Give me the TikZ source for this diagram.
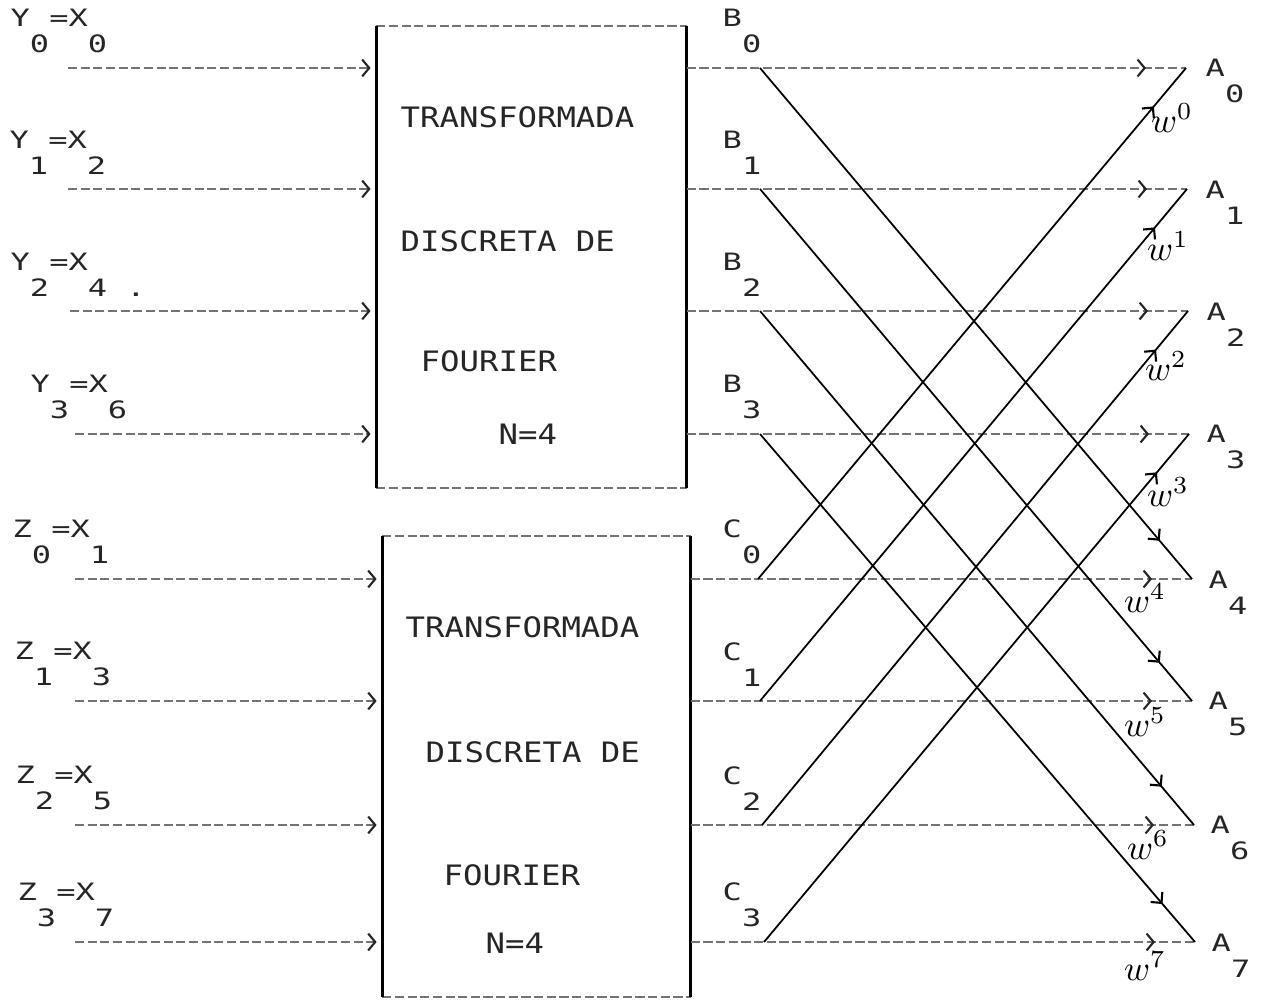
\documentclass[tikz,border=0pt]{standalone}
\usepackage{fontspec}
\usepackage{tikz}
\usetikzlibrary{arrows.meta, positioning, decorations.markings, calc}
\newfontfamily\dotfont[FakeStretch=1.15]{DejaVu Sans Mono}
\newfontfamily\pinfont[FakeStretch=1.34]{DejaVu Sans Mono}
\tikzset{
    dotLine/.style={black!55, line width=0.55pt, dash pattern=on 2.6pt off 1pt},
    boxSide/.style={black, line width=0.8pt},
    dftBox/.style={inner sep=0pt},
    inArrow/.style={dotLine, -{Straight Barb[length=2pt, width=4.8pt, line width=0.6pt, black!85]}, shorten >=1.6pt},
    outLine/.style={dotLine, postaction={decorate}, decoration={markings,
        mark=at position -0.4cm with {\arrow{Straight Barb[length=2pt, width=4.8pt, line width=0.6pt, black!85]}}}},
    butterfly/.style={black, line width=0.5pt, postaction={decorate}, decoration={markings,
        mark=at position -0.5cm with {\arrow{Straight Barb[length=2.2pt, width=4.4pt, line width=0.6pt]}}}},
    pinLabel/.style={font=\pinfont\fontsize{6.8}{7.4}\selectfont, align=left, anchor=south west, inner sep=0pt, text=black!85},
    boxText/.style={font=\dotfont\fontsize{8}{7.4}\selectfont, anchor=base west, inner sep=0pt, text=black!85},
    twiddle/.style={font=\normalsize, inner sep=0pt}
}

\begin{document}
\begin{tikzpicture}[x=0.01cm, y=-0.01cm]
    \useasboundingbox (0,0) rectangle (1261,1001);
    % the two N=4 blocks
    \node[dftBox, minimum width=3.09cm, minimum height=4.6cm] (dftY) at (531.5,257) {};
    \node[dftBox, minimum width=3.07cm, minimum height=4.59cm] (dftZ) at (536.5,766.5) {};
    \draw[dotLine] (dftY.north west) -- (dftY.north east);
    \draw[dotLine] (dftY.south west) -- (dftY.south east);
    \draw[dotLine] (dftZ.north west) -- (dftZ.north east);
    \draw[dotLine] (dftZ.south west) -- (dftZ.south east);
    \draw[boxSide] (dftY.north west) -- (dftY.south west);
    \draw[boxSide] (dftY.north east) -- (dftY.south east);
    \draw[boxSide] (dftZ.north west) -- (dftZ.south west);
    \draw[boxSide] (dftZ.north east) -- (dftZ.south east);
    \node[boxText] (tY1) at (400,128) {TRANSFORMADA};
    \node[boxText] (tY2) at (400,252) {DISCRETA DE};
    \node[boxText] (tY3) at (420,372) {FOURIER};
    \node[boxText] (tY4) at (498,445) {N=4};
    \node[boxText] (tZ1) at (405,638) {TRANSFORMADA};
    \node[boxText] (tZ2) at (425,763) {DISCRETA DE};
    \node[boxText] (tZ3) at (443,885) {FOURIER};
    \node[boxText] (tZ4) at (485,953) {N=4};

    % inputs
    \node[pinLabel] (lY0) at (10,54) {Y~=X\\~0~~0};
    \node[pinLabel] (lY1) at (9,175) {Y~=X\\~1~~2};
    \node[pinLabel] (lY2) at (10,297) {Y~=X\\~2~~4~.};
    \node[pinLabel] (lY3) at (30,420) {Y~=X\\~3~~6};
    \node[pinLabel] (lZ0) at (12,565) {Z~=X\\~0~~1};
    \node[pinLabel] (lZ1) at (14,687) {Z~=X\\~1~~3};
    \node[pinLabel] (lZ2) at (15,811) {Z~=X\\~2~~5};
    \node[pinLabel] (lZ3) at (17,928) {Z~=X\\~3~~7};
    \coordinate (sY0) at (68,68);   \coordinate (sY1) at (68,189);
    \coordinate (sY2) at (70,311);  \coordinate (sY3) at (75,434);
    \coordinate (sZ0) at (75,579);  \coordinate (sZ1) at (75,701);
    \coordinate (sZ2) at (75,825);  \coordinate (sZ3) at (75,942);
    \draw[inArrow] (sY0) -- (sY0 -| dftY.west);
    \draw[inArrow] (sY1) -- (sY1 -| dftY.west);
    \draw[inArrow] (sY2) -- (sY2 -| dftY.west);
    \draw[inArrow] (sY3) -- (sY3 -| dftY.west);
    \draw[inArrow] (sZ0) -- (sZ0 -| dftZ.west);
    \draw[inArrow] (sZ1) -- (sZ1 -| dftZ.west);
    \draw[inArrow] (sZ2) -- (sZ2 -| dftZ.west);
    \draw[inArrow] (sZ3) -- (sZ3 -| dftZ.west);

    % outputs
    \coordinate (B0) at (760,68);   \coordinate (A0) at (1186,68);
    \coordinate (B1) at (760,189);  \coordinate (A1) at (1187,189);
    \coordinate (B2) at (760,311);  \coordinate (A2) at (1188,311);
    \coordinate (B3) at (760,434);  \coordinate (A3) at (1189,434);
    \coordinate (C0) at (758,579);  \coordinate (A4) at (1192,579);
    \coordinate (C1) at (760,701);  \coordinate (A5) at (1192,701);
    \coordinate (C2) at (762,825);  \coordinate (A6) at (1194,825);
    \coordinate (C3) at (764,942);  \coordinate (A7) at (1195,942);
    \draw[outLine] (dftY.east |- A0) -- (A0);
    \draw[outLine] (dftY.east |- A1) -- (A1);
    \draw[outLine] (dftY.east |- A2) -- (A2);
    \draw[outLine] (dftY.east |- A3) -- (A3);
    \draw[outLine] (dftZ.east |- A4) -- (A4);
    \draw[outLine] (dftZ.east |- A5) -- (A5);
    \draw[outLine] (dftZ.east |- A6) -- (A6);
    \draw[outLine] (dftZ.east |- A7) -- (A7);
    \node[pinLabel] (lB0) at (722,54) {B\\~0};
    \node[pinLabel] (lB1) at (722,175) {B\\~1};
    \node[pinLabel] (lB2) at (722,297) {B\\~2};
    \node[pinLabel] (lB3) at (722,420) {B\\~3};
    \node[pinLabel] (lC0) at (722,565) {C\\~0};
    \node[pinLabel] (lC1) at (722,687) {C\\~1};
    \node[pinLabel] (lC2) at (722,811) {C\\~2};
    \node[pinLabel] (lC3) at (722,928) {C\\~3};
    \node[pinLabel] (lA0) at (1205,104) {A\\~0};
    \node[pinLabel] (lA1) at (1205,225) {A\\~1};
    \node[pinLabel] (lA2) at (1206,347) {A\\~2};
    \node[pinLabel] (lA3) at (1206,470) {A\\~3};
    \node[pinLabel] (lA4) at (1208,615) {A\\~4};
    \node[pinLabel] (lA5) at (1208,737) {A\\~5};
    \node[pinLabel] (lA6) at (1210,861) {A\\~6};
    \node[pinLabel] (lA7) at (1211,978) {A\\~7};

    % butterflies
    \draw[butterfly] (B0) -- (A4);
    \draw[butterfly] (B1) -- (A5);
    \draw[butterfly] (B2) -- (A6);
    \draw[butterfly] (B3) -- (A7);
    \draw[butterfly] (C0) -- (A0);
    \draw[butterfly] (C1) -- (A1);
    \draw[butterfly] (C2) -- (A2);
    \draw[butterfly] (C3) -- (A3);
    \node[twiddle] (w0) at (1172,118) {$w^{0}$};
    \node[twiddle] (w1) at (1168,246) {$w^{1}$};
    \node[twiddle] (w2) at (1166,366) {$w^{2}$};
    \node[twiddle] (w3) at (1168,492) {$w^{3}$};
    \node[twiddle] (w4) at (1145,598) {$w^{4}$};
    \node[twiddle] (w5) at (1145,722) {$w^{5}$};
    \node[twiddle] (w6) at (1148,845) {$w^{6}$};
    \node[twiddle] (w7) at (1145,966) {$w^{7}$};
\end{tikzpicture}
\end{document}
